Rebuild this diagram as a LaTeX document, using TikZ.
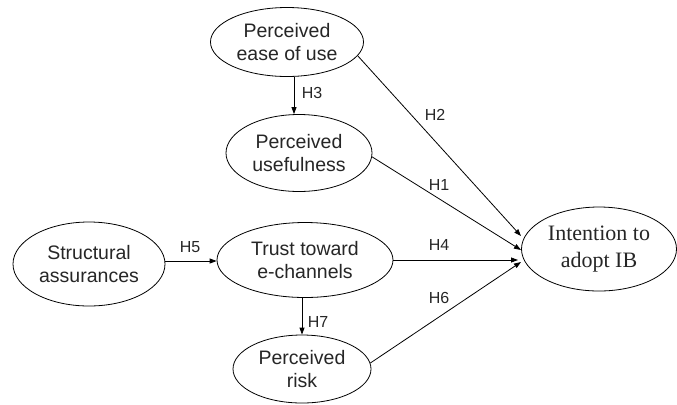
\documentclass[tikz,border=0pt]{standalone}
\usepackage{fontspec}
\setmainfont{Liberation Sans}
\newfontfamily\timesfont{Liberation Serif}
\usetikzlibrary{shapes.geometric,arrows.meta}
\begin{document}
\begin{tikzpicture}[x=1bp,y=-1bp,
  construct/.style={draw, ellipse, inner sep=0pt, align=center, line width=0.8bp,
    font=\fontsize{19.5bp}{23bp}\selectfont, text=black!85},
  link/.style={draw, line width=0.8bp, -{Triangle[length=7bp,width=5bp]}},
  hlab/.style={font=\fontsize{16bp}{18bp}\selectfont, text=black!85, inner sep=0pt}]
\useasboundingbox (0,0) rectangle (677,404);
\fill[white] (0,0) rectangle (677,404);
\node[construct, minimum width=153bp, minimum height=69bp] (ease) at (287,42) {Perceived\\ease of use};
\node[construct, minimum width=146bp, minimum height=77bp] (useful) at (299,153) {Perceived\\usefulness};
\node[construct, minimum width=152bp, minimum height=84bp] (struct) at (89,264) {Structural\\assurances};
\node[construct, minimum width=176bp, minimum height=75bp] (trust) at (305,260) {Trust toward\\e-channels};
\node[construct, minimum width=138bp, minimum height=68bp] (risk) at (302,369) {Perceived\\risk};
\node[construct, minimum width=155bp, minimum height=84bp, font=\timesfont\fontsize{22bp}{27bp}\selectfont] (intent) at (599,249) {Intention to\\adopt IB};
\coordinate (e2) at (521,236);
\coordinate (e1) at (521,250);
\coordinate (e4) at (518,260);
\coordinate (e6) at (521,262);
\coordinate (c3) at (294,0);
\coordinate (c5) at (0,261);
\coordinate (c7) at (302,0);
\draw[link] (ease.-11) -- (e2);
\draw[link] (useful.-3) -- (e1);
\draw[link] (trust.east) -- (e4);
\draw[link] (risk.5) -- (e6);
\draw[link] (ease.south -| c3) -- (useful.north -| c3);
\draw[link] (struct.east |- c5) -- (trust.west |- c5);
\draw[link] (trust.south -| c7) -- (risk.north -| c7);
\node[hlab] (h3) at (312,93) {H3};
\node[hlab] (h5) at (190,247) {H5};
\node[hlab] (h7) at (318,322) {H7};
\node[hlab] (h2) at (435,115) {H2};
\node[hlab] (h1) at (439,185) {H1};
\node[hlab] (h4) at (439,245) {H4};
\node[hlab] (h6) at (439,298) {H6};
\end{tikzpicture}
\end{document}
